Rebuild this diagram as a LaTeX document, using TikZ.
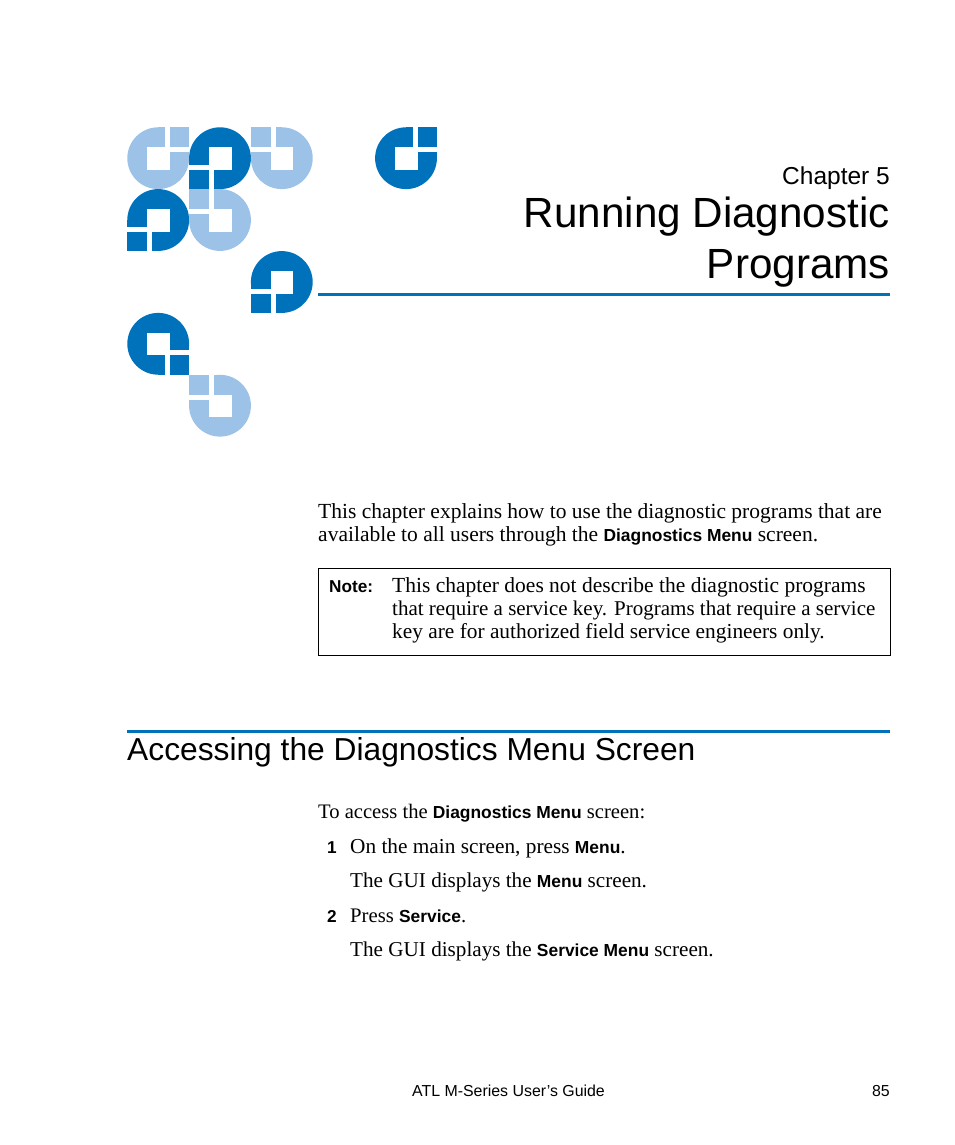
\documentclass[tikz,border=0pt]{standalone}
\usepackage{fontspec}
\setmainfont{Liberation Serif}
\setsansfont{Liberation Sans}
\definecolor{dk}{RGB}{0,114,188}
\definecolor{lt}{RGB}{157,194,232}
\newcommand{\lbl}[1]{{\sffamily\bfseries\fontsize{17.4}{20}\selectfont #1}}
\newcommand{\tileTL}[3]{\begin{scope}[shift={(#1,#2)}]
\fill[#3] (31,31) circle[radius=30.9];\fill[#3] (0,0) rectangle (31,31);
\fill[white] (20,20) rectangle (42.5,42.5);\fill[white] (20,0) rectangle (25,20);\fill[white] (0,20) rectangle (20,25);\end{scope}}
\newcommand{\tileTR}[3]{\begin{scope}[shift={(#1,#2)}]
\fill[#3] (31,31) circle[radius=30.9];\fill[#3] (31,0) rectangle (62,31);
\fill[white] (20,20) rectangle (42.5,42.5);\fill[white] (37.5,0) rectangle (42.5,20);\fill[white] (42.5,20) rectangle (62,25);\end{scope}}
\newcommand{\tileBL}[3]{\begin{scope}[shift={(#1,#2)}]
\fill[#3] (31,31) circle[radius=30.9];\fill[#3] (0,31) rectangle (31,62);
\fill[white] (20,20) rectangle (42.5,42.5);\fill[white] (20,42.5) rectangle (25,62);\fill[white] (0,37.5) rectangle (20,42.5);\end{scope}}
\newcommand{\tileBR}[3]{\begin{scope}[shift={(#1,#2)}]
\fill[#3] (31,31) circle[radius=30.9];\fill[#3] (31,31) rectangle (62,62);
\fill[white] (20,20) rectangle (42.5,42.5);\fill[white] (37.5,42.5) rectangle (42.5,62);\fill[white] (42.5,37.5) rectangle (62,42.5);\end{scope}}
\tikzset{
 bodyline/.style={anchor=base west,inner sep=0pt,font=\fontsize{#1}{25}\selectfont,text=black},
 bodyline/.default=21.5,
 sansline/.style={anchor=base west,inner sep=0pt,font=\sffamily\bfseries\fontsize{17.2}{20}\selectfont,text=black},
 footline/.style={inner sep=0pt,font=\sffamily\fontsize{15.9}{18}\selectfont,text=black},
 rightline/.style={anchor=base east,inner sep=0pt,text=black},
 titleline/.style={rightline,font=\sffamily\fontsize{42.2}{50}\selectfont},
 rulebar/.style={draw=dk,line width=3pt}
}
\begin{document}
\begin{tikzpicture}[x=1pt,y=-1pt]
\useasboundingbox (0,0) rectangle (954,1145);
\fill[white] (0,0) rectangle (954,1145);
\tileTR{127.2}{127.2}{lt}
\tileBL{189}{127.2}{dk}
\tileTL{250.8}{127.2}{lt}
\tileBL{127.2}{189}{dk}
\tileTL{189}{189}{lt}
\tileTR{375}{127.2}{dk}
\tileBL{250.8}{251}{dk}
\tileBR{127.2}{312.8}{dk}
\tileTL{189}{374.7}{lt}
\node[rightline,font=\sffamily\fontsize{24.5}{28}\selectfont] (chap) at (890,184) {Chapter 5};
\node[titleline] (t1) at (890,227) {Running Diagnostic};
\node[titleline] (t2) at (890,278) {Programs};
\coordinate (r1a) at (318,294.5); \coordinate (r1b) at (890,294.5);
\draw[rulebar] (r1a) -- (r1b);
\node[bodyline] (p1) at (318,518) {This chapter explains how to use the diagnostic programs that are};
\node[bodyline] (p2) at (318,541) {available to all users through the \lbl{Diagnostics Menu} screen.};
\node[draw=black,line width=0.8pt,minimum width=571.5pt,minimum height=86.5pt,anchor=north west,inner sep=0pt] (box) at (318,568) {};
\node[sansline] (nt) at (329,592) {Note:};
\node[bodyline] (n1) at (392,592) {This chapter does not describe the diagnostic programs};
\node[bodyline=21.0] (n2) at (392,615) {that require a service key. Programs that require a service};
\node[bodyline=21.35] (n3) at (392,638) {key are for authorized field service engineers only.};
\coordinate (r2a) at (127,731.5); \coordinate (r2b) at (890,731.5);
\draw[rulebar] (r2a) -- (r2b);
\node[anchor=base west,inner sep=0pt,font=\sffamily\fontsize{31.75}{38}\selectfont] (h) at (127,760) {Accessing the Diagnostics Menu Screen};
\node[bodyline=20.6] (a0) at (318,818) {To access the \lbl{Diagnostics Menu} screen:};
\node[sansline] (s1) at (327,853) {1};
\node[bodyline=21.3] (a1) at (350,853) {On the main screen, press \lbl{Menu}.};
\node[bodyline=21.15] (a2) at (350,887) {The GUI displays the \lbl{Menu} screen.};
\node[sansline] (s2) at (327,922) {2};
\node[bodyline=20.7] (a3) at (350,922) {Press \lbl{Service}.};
\node[bodyline=21.15] (a4) at (350,956) {The GUI displays the \lbl{Service Menu} screen.};
\node[footline,anchor=base west] (f1) at (412,1096) {ATL M-Series User’s Guide};
\node[footline,anchor=base east] (f2) at (890,1096) {85};
\end{tikzpicture}
\end{document}
